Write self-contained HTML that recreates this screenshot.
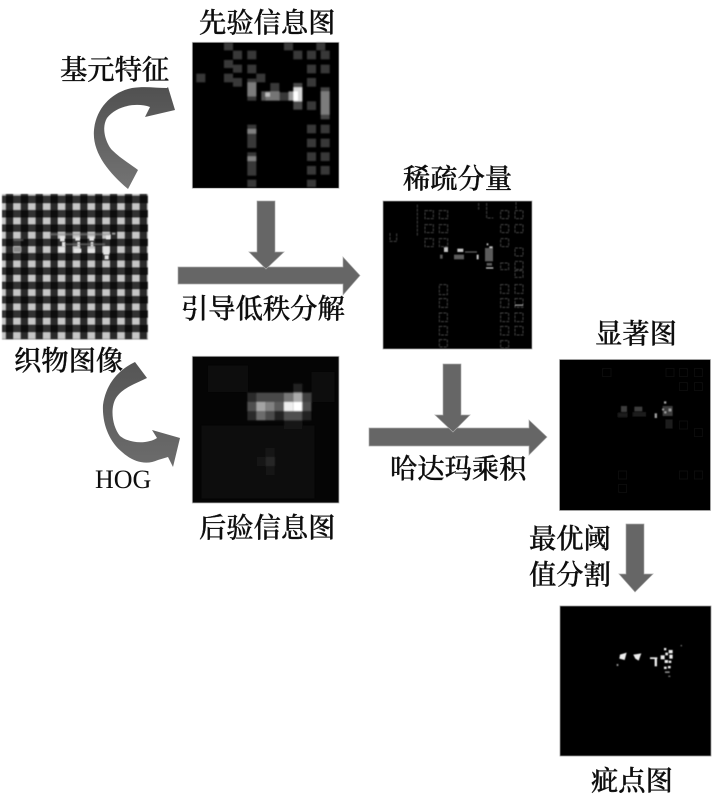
<!DOCTYPE html>
<html><head><meta charset="utf-8">
<style>
html,body{margin:0;padding:0;background:#fff;width:712px;height:800px;overflow:hidden}
svg{display:block}
text{font-family:"Liberation Serif","Noto Serif CJK SC",serif;fill:#0a0a0a;stroke:#0a0a0a;stroke-width:.35px;font-size:27.3px;font-weight:500}
</style></head><body>
<svg xmlns="http://www.w3.org/2000/svg" width="712" height="800" viewBox="0 0 712 800">
<defs>
<filter id="b" x="-5%" y="-5%" width="110%" height="110%"><feGaussianBlur stdDeviation="1.4"/></filter>
<filter id="b2" x="-5%" y="-5%" width="110%" height="110%"><feGaussianBlur stdDeviation="2"/></filter>
<filter id="bf" x="-5%" y="-5%" width="110%" height="110%"><feGaussianBlur stdDeviation="1.5"/></filter>
<filter id="t"><feGaussianBlur stdDeviation="0.3"/></filter>
<pattern id="fab" patternUnits="userSpaceOnUse" width="44.6" height="43" x="40" y="40">
<rect width="44.6" height="43" fill="#333"/>
<rect x="0" y="0" width="22" height="20" fill="#c6c6c6"/>
<rect x="22" y="20" width="22.6" height="23" fill="#0c0c0c"/>
<rect x="22" y="0" width="22.6" height="20" fill="#2a2a2a"/>
<rect x="0" y="20" width="22" height="23" fill="#303030"/>
</pattern>
<linearGradient id="g1" x1="0" y1="0" x2="0" y2="1"><stop offset="0" stop-color="#505050"/><stop offset="1" stop-color="#747474"/></linearGradient>
<linearGradient id="g2" x1="0" y1="0" x2="0" y2="1"><stop offset="0" stop-color="#555"/><stop offset="1" stop-color="#6c6c6c"/></linearGradient>
</defs>
<rect width="712" height="800" fill="#fff"/>

<!-- Fabric image -->
<g transform="translate(0,190) scale(0.3333)">
<rect x="6" y="12" width="438" height="436" fill="url(#fab)" filter="url(#bf)"/>
<g filter="url(#b)" fill="#e4e4e4">
<rect x="180" y="138" width="14" height="16"/><rect x="176" y="172" width="18" height="14"/><rect x="186" y="156" width="10" height="14"/>
<rect x="226" y="142" width="14" height="10"/><rect x="222" y="176" width="22" height="12"/><rect x="232" y="156" width="8" height="14"/>
<rect x="268" y="140" width="14" height="12"/><rect x="264" y="176" width="20" height="12"/><rect x="272" y="156" width="8" height="14"/>
<rect x="318" y="134" width="14" height="14"/><rect x="310" y="170" width="18" height="24"/><rect x="314" y="196" width="12" height="12"/><rect x="336" y="128" width="10" height="6" fill="#999"/>
</g>
<g filter="url(#b2)" fill="#8a8a8a"><rect x="150" y="130" width="180" height="6" opacity=".6"/><rect x="195" y="160" width="120" height="6" opacity=".6"/><rect x="40" y="170" width="24" height="16"/><rect x="40" y="148" width="30" height="4" opacity=".7"/></g>
</g>

<!-- Prior -->
<rect x="192" y="42" width="147" height="146" fill="#000"/>
<g transform="translate(188,38) scale(0.3333)" filter="url(#b2)">
<g fill="#383838">
<rect x="108" y="14" width="27" height="23"/><rect x="288" y="14" width="27" height="23"/><rect x="385" y="14" width="27" height="23"/>
<rect x="135" y="38" width="27" height="26"/><rect x="178" y="38" width="27" height="26"/><rect x="316" y="38" width="27" height="26"/><rect x="357" y="38" width="27" height="26"/><rect x="398" y="38" width="27" height="26"/>
<rect x="108" y="66" width="27" height="24"/><rect x="135" y="80" width="27" height="24"/><rect x="178" y="80" width="27" height="26"/><rect x="357" y="80" width="27" height="26"/><rect x="398" y="80" width="27" height="26"/>
<rect x="25" y="107" width="27" height="26"/><rect x="108" y="107" width="27" height="26"/><rect x="135" y="120" width="27" height="26"/><rect x="205" y="107" width="27" height="26"/><rect x="357" y="120" width="27" height="26"/>
<rect x="178" y="122" width="27" height="66"/><rect x="247" y="135" width="27" height="26"/><rect x="275" y="163" width="27" height="25"/><rect x="357" y="190" width="27" height="26"/>
<rect x="178" y="260" width="27" height="70"/><rect x="178" y="343" width="27" height="70"/><rect x="178" y="425" width="27" height="22"/>
<rect x="357" y="260" width="27" height="26"/><rect x="398" y="260" width="27" height="26"/><rect x="357" y="302" width="27" height="26"/><rect x="398" y="302" width="27" height="26"/><rect x="357" y="343" width="27" height="26"/><rect x="398" y="343" width="27" height="26"/><rect x="357" y="384" width="27" height="26"/><rect x="398" y="384" width="27" height="26"/><rect x="357" y="425" width="27" height="22"/>
</g>
<rect x="178" y="133" width="27" height="42" fill="#7c7c7c"/>
<rect x="220" y="160" width="14" height="28" fill="#555"/><rect x="233" y="160" width="42" height="28" fill="#757575"/><rect x="232" y="164" width="14" height="12" fill="#c0c0c0"/>
<rect x="316" y="135" width="27" height="80" fill="#484848"/><rect x="302" y="160" width="14" height="28" fill="#999"/><rect x="316" y="148" width="27" height="42" fill="#d8d8d8"/><rect x="316" y="160" width="14" height="28" fill="#fff"/>
<rect x="398" y="148" width="27" height="96" fill="#444"/><rect x="398" y="160" width="27" height="70" fill="#7c7c7c"/>
<rect x="178" y="273" width="27" height="14" fill="#808080"/><rect x="178" y="355" width="27" height="14" fill="#808080"/>
</g>
<rect x="192.3" y="42.3" width="146.7" height="146" fill="none" stroke="#bbb" stroke-width="0.8"/>

<!-- Posterior -->
<rect x="192" y="356" width="147" height="147" fill="#050505"/>
<g transform="translate(188,352) scale(0.3333)" filter="url(#b2)">
<g fill="#0b0b0b"><rect x="60" y="40" width="120" height="80"/><rect x="40" y="220" width="340" height="220"/><rect x="370" y="60" width="70" height="90"/></g>
<g fill="#0f0f0f"><rect x="205" y="400" width="28" height="28"/><rect x="150" y="370" width="80" height="28"/><rect x="315" y="340" width="55" height="60"/><rect x="40" y="340" width="70" height="60"/></g>
<rect x="206" y="315" width="27" height="27" fill="#141414"/><rect x="233" y="288" width="27" height="27" fill="#161616"/><rect x="233" y="342" width="27" height="27" fill="#141414"/><rect x="233" y="315" width="27" height="27" fill="#262626"/>
<rect x="316" y="95" width="27" height="27" fill="#222"/><rect x="288" y="205" width="55" height="27" fill="#151515"/>
<rect x="178" y="122" width="27" height="28" fill="#2c2c2c"/><rect x="205" y="122" width="83" height="28" fill="#4a4a4a"/><rect x="288" y="122" width="28" height="28" fill="#777"/><rect x="316" y="122" width="27" height="28" fill="#aaa"/><rect x="343" y="122" width="27" height="28" fill="#404040"/>
<rect x="178" y="150" width="27" height="27" fill="#505050"/><rect x="205" y="150" width="28" height="27" fill="#a4a4a4"/><rect x="233" y="150" width="27" height="27" fill="#828282"/><rect x="260" y="150" width="28" height="27" fill="#5c5c5c"/><rect x="288" y="150" width="28" height="27" fill="#eee"/><rect x="316" y="150" width="27" height="27" fill="#fff"/><rect x="343" y="150" width="27" height="27" fill="#505050"/>
<rect x="178" y="177" width="27" height="28" fill="#2c2c2c"/><rect x="205" y="177" width="28" height="28" fill="#6c6c6c"/><rect x="233" y="177" width="27" height="28" fill="#4c4c4c"/><rect x="260" y="177" width="28" height="28" fill="#222"/><rect x="288" y="177" width="55" height="28" fill="#505050"/><rect x="343" y="177" width="27" height="28" fill="#222"/>
</g>
<rect x="192.3" y="356.3" width="146.7" height="146.7" fill="none" stroke="#bbb" stroke-width="0.8"/>

<!-- Sparse -->
<rect x="383" y="201" width="149" height="148" fill="#000" stroke="#aaa" stroke-width="0.8"/>
<g transform="translate(380,198) scale(0.3333)" filter="url(#b)">
<g fill="none" stroke="#444" stroke-width="3" stroke-dasharray="9 3">
<rect x="135" y="38" width="25" height="24"/><rect x="178" y="38" width="25" height="24"/><rect x="362" y="38" width="24" height="24"/><rect x="405" y="38" width="24" height="24"/>
<rect x="135" y="80" width="25" height="24"/><rect x="178" y="80" width="25" height="24"/><rect x="362" y="80" width="24" height="24"/><rect x="405" y="80" width="24" height="24"/>
<rect x="135" y="122" width="25" height="24"/><rect x="178" y="122" width="25" height="24"/><rect x="362" y="122" width="24" height="24"/>
<rect x="405" y="150" width="24" height="24"/><rect x="405" y="190" width="24" height="24"/><rect x="405" y="218" width="24" height="20"/>
<rect x="178" y="260" width="24" height="30"/><rect x="178" y="302" width="24" height="26"/><rect x="178" y="345" width="24" height="26"/><rect x="178" y="385" width="24" height="26"/><rect x="178" y="425" width="24" height="22"/>
<rect x="362" y="260" width="24" height="26"/><rect x="362" y="302" width="24" height="26"/><rect x="362" y="345" width="24" height="26"/><rect x="362" y="385" width="24" height="26"/><rect x="362" y="428" width="24" height="22"/>
<rect x="405" y="260" width="24" height="26"/><rect x="405" y="302" width="24" height="26"/><rect x="405" y="345" width="24" height="26"/><rect x="405" y="385" width="24" height="26"/>
<rect x="362" y="195" width="24" height="20"/>
<path d="M30 105 V130 H50 V105M112 20 V115M296 15 V35M320 15 V60 H340M408 12 V38"/>
</g>
<g fill="#c4c4c4"><rect x="192" y="148" width="12" height="14"/><rect x="232" y="152" width="18" height="10"/><rect x="318" y="208" width="22" height="4"/><rect x="316" y="180" width="6" height="8"/><rect x="328" y="145" width="10" height="6"/><rect x="290" y="170" width="6" height="14"/><rect x="405" y="320" width="24" height="3"/><rect x="320" y="136" width="5" height="6"/><rect x="330" y="165" width="6" height="6"/></g>
<g fill="#5c5c5c"><rect x="180" y="170" width="8" height="12"/><rect x="222" y="170" width="30" height="14"/><rect x="255" y="160" width="36" height="4"/><rect x="315" y="150" width="24" height="40"/><rect x="320" y="195" width="16" height="8"/></g>
</g>

<!-- Saliency -->
<rect x="559.5" y="359.5" width="151" height="151" fill="#000" stroke="#aaa" stroke-width="0.8"/>
<g transform="translate(556,356) scale(0.3333)" filter="url(#b)">
<g fill="none" stroke="#101010" stroke-width="3"><rect x="140" y="38" width="25" height="24"/><rect x="330" y="38" width="24" height="24"/><rect x="370" y="38" width="24" height="24"/><rect x="415" y="38" width="24" height="24"/><rect x="370" y="80" width="24" height="24"/><rect x="415" y="80" width="24" height="24"/><rect x="370" y="195" width="24" height="24"/><rect x="415" y="218" width="24" height="24"/><rect x="370" y="345" width="24" height="24"/><rect x="415" y="345" width="24" height="24"/><rect x="188" y="345" width="24" height="24"/><rect x="188" y="385" width="24" height="24"/></g>
<g fill="#3c3c3c"><rect x="195" y="150" width="18" height="18"/><rect x="235" y="152" width="24" height="14"/><rect x="320" y="150" width="30" height="30"/></g>
<g fill="#1c1c1c"><rect x="185" y="170" width="30" height="14"/><rect x="230" y="168" width="40" height="14"/><rect x="328" y="190" width="22" height="28"/></g>
<g fill="#a0a0a0"><rect x="296" y="172" width="7" height="14"/><rect x="324" y="136" width="7" height="7"/><rect x="338" y="158" width="8" height="8"/><rect x="325" y="166" width="6" height="6"/><rect x="318" y="158" width="6" height="5"/></g>
</g>

<!-- Defect -->
<rect x="560" y="606" width="151" height="150" fill="#000" stroke="#999" stroke-width="0.8"/>
<g transform="translate(510,510) scale(0.3333)" filter="url(#b)" fill="#eee">
<path d="M330 434 L350 428 L344 450 L328 446Z"/><path d="M370 434 L394 430 L386 452 L376 446Z"/>
<rect x="420" y="442" width="22" height="5"/><rect x="434" y="447" width="7" height="22"/>
<rect x="452" y="436" width="12" height="12"/><rect x="466" y="428" width="8" height="8"/><rect x="476" y="420" width="12" height="10"/><rect x="478" y="434" width="10" height="12"/><rect x="462" y="414" width="7" height="7"/><rect x="464" y="450" width="10" height="9"/><rect x="476" y="452" width="8" height="7"/><rect x="462" y="470" width="8" height="7"/><rect x="474" y="468" width="8" height="7"/>
<rect x="320" y="462" width="5" height="6" fill="#999"/><rect x="465" y="484" width="14" height="5" fill="#888"/><rect x="512" y="405" width="4" height="4" fill="#777"/><rect x="475" y="497" width="6" height="4" fill="#777"/>
</g>

<!-- Straight arrows -->
<g fill="#666" stroke="#aaa" stroke-width="0.7">
<polygon points="178,267 343,267 343,257 360,275.5 343,295 343,284 178,284"/>
<polygon points="257,201 275,201 275,252 284,252 266,269 249,252 257,252"/>
<polygon points="369,428 529,428 529,420 547,437 529,455 529,446 369,446"/>
<polygon points="443,364 461,364 461,415 470,415 453,432 435,415 443,415"/>
<polygon points="626,524 644,524 644,574 653,574 635,592 619,574 626,574"/>
</g>

<!-- Curved arrows -->
<path fill="url(#g1)" d="M128,189 C108,172 92,152 94,130 C96,108 112,92 132,88 C145,86 156,88 167,88 L168,87 L175,110 L145,117 L150,107 C136,102 116,106 107,118 C100,130 108,146 112,150 C120,158 130,164 138,170 Z"/>
<path fill="url(#g2)" d="M135,362 C118,370 106,384 103,405 C102,425 110,442 122,452 C132,461 145,466 158,460 L168,457 L173,467 L180,438 L152,430 L157,438 C148,444 130,444 120,436 C112,426 110,408 116,398 C122,388 135,384 147,378 Z"/>

<!-- Labels -->
<g filter="url(#t)">
<text x="199" y="32">先验信息图</text>
<text x="60" y="79">基元特征</text>
<text x="181" y="318">引导低秩分解</text>
<text x="14" y="370">织物图像</text>
<text x="95" y="488" style="font-size:26px;font-weight:400;stroke-width:0">HOG</text>
<text x="199" y="537">后验信息图</text>
<text x="403" y="188">稀疏分量</text>
<text x="390" y="478">哈达玛乘积</text>
<text x="595" y="343">显著图</text>
<text x="529" y="548">最优阈</text>
<text x="529" y="584">值分割</text>
<text x="591" y="790">疵点图</text>
</g>
</svg>
</body></html>
